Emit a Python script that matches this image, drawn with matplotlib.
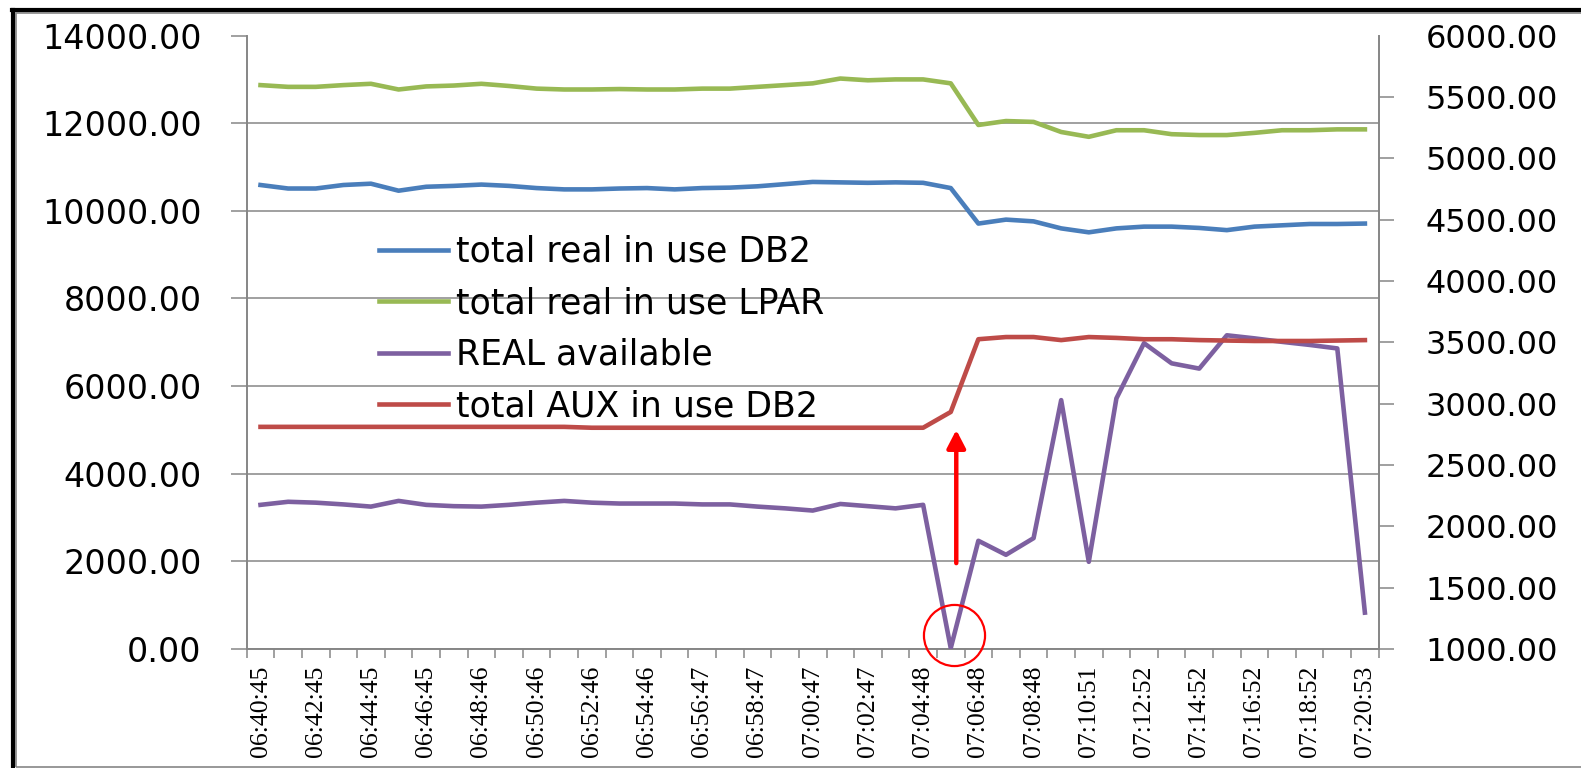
import matplotlib
matplotlib.use("Agg")
import matplotlib.pyplot as plt
from matplotlib.lines import Line2D
from matplotlib.patches import Rectangle

# x axis labels (every second sample is labelled)
tick_labels = ["06:40:45", "06:42:45", "06:44:45", "06:46:45", "06:48:46", "06:50:46",
               "06:52:46", "06:54:46", "06:56:47", "06:58:47", "07:00:47", "07:02:47",
               "07:04:48", "07:06:48", "07:08:48", "07:10:51", "07:12:52", "07:14:52",
               "07:16:52", "07:18:52", "07:20:53"]

real_db2 = [10590, 10510, 10510, 10590, 10620, 10460, 10550, 10570, 10600, 10570,
            10520, 10490, 10490, 10510, 10520, 10490, 10520, 10530, 10560, 10610,
            10660, 10650, 10640, 10650, 10640, 10520, 9710, 9800, 9760, 9600,
            9510, 9600, 9640, 9640, 9610, 9560, 9640, 9670, 9700, 9700, 9710]
real_lpar = [12870, 12830, 12830, 12870, 12900, 12770, 12840, 12860, 12900, 12850,
             12790, 12770, 12770, 12780, 12770, 12770, 12790, 12790, 12830, 12870,
             12910, 13020, 12980, 13000, 13000, 12910, 11960, 12050, 12030, 11800,
             11690, 11840, 11840, 11750, 11730, 11730, 11780, 11840, 11840, 11860, 11860]
real_avail = [3290, 3360, 3340, 3300, 3250, 3380, 3290, 3260, 3250, 3290,
              3340, 3380, 3340, 3320, 3320, 3320, 3300, 3300, 3250, 3210,
              3160, 3310, 3260, 3210, 3290, 20, 2470, 2150, 2530, 5680,
              1990, 5720, 6980, 6520, 6400, 7160, 7090, 7010, 6940, 6860, 830]
aux_db2 = [5070, 5070, 5070, 5070, 5070, 5070, 5070, 5070, 5070, 5070,
           5070, 5070, 5050, 5050, 5050, 5050, 5050, 5050, 5050, 5050,
           5050, 5050, 5050, 5050, 5050, 5410, 7070, 7120, 7120, 7050,
           7120, 7100, 7070, 7070, 7050, 7040, 7030, 7030, 7030, 7040, 7050]

series = [("total real in use DB2", real_db2, "#4A7EBB"),
          ("total real in use LPAR", real_lpar, "#98B954"),
          ("REAL available", real_avail, "#7D60A0"),
          ("total AUX in use DB2", aux_db2, "#BE4B48")]

GRAY = "#868686"
W, H = 1581, 768

fig = plt.figure(figsize=(W / 100, H / 100), dpi=100)
ax = fig.add_axes([246.7 / W, 1 - 649 / H, (1378.7 - 246.7) / W, (649 - 35.6) / H])

x = list(range(len(real_db2)))
handles = []
for name, vals, col in series:
    ln, = ax.plot(x, vals, color=col, lw=3.3, label=name, solid_joinstyle="round", zorder=3)
    handles.append(ln)

ax.set_xlim(-0.5, len(x) - 0.5)
ax.set_ylim(0, 14000)
ax.set_yticks(range(0, 14001, 2000))
ax.yaxis.set_major_formatter(matplotlib.ticker.StrMethodFormatter("{x:.2f}"))
ax.grid(axis="y", color=GRAY, lw=1.1, zorder=1)
ax.set_axisbelow(True)

# category boundary ticks + labels on category centres
ax.set_xticks([i - 0.5 for i in range(len(x) + 1)])
ax.set_xticklabels([])
ax.set_xticks(list(range(0, len(x), 2)), minor=True)
ax.set_xticklabels(tick_labels, minor=True, rotation=90, family="Liberation Serif",
                   fontsize=18.5, va="top", ha="center")
ax.tick_params(axis="x", which="major", length=6.7, width=1.1, color=GRAY, direction="out")
ax.tick_params(axis="x", which="minor", length=0, pad=12)
ax.tick_params(axis="y", length=11.5, width=1.1, color=GRAY, pad=21, labelsize=24)
ax.yaxis.get_major_ticks()[-1].tick1line.set_visible(False)
ax.yaxis.get_major_ticks()[-1].gridline.set_visible(False)

for s in ["top", "right"]:
    ax.spines[s].set_visible(False)
for s in ["left", "bottom"]:
    ax.spines[s].set_color(GRAY)
    ax.spines[s].set_linewidth(1.4)

ax2 = ax.twinx()
ax2.set_ylim(1000, 6000)
ax2.set_yticks(range(1000, 6001, 500))
ax2.yaxis.set_major_formatter(matplotlib.ticker.StrMethodFormatter("{x:.2f}"))
ax2.tick_params(axis="y", length=10.8, width=1.1, color=GRAY, pad=23, labelsize=23)
ax2.yaxis.get_major_ticks()[-1].tick2line.set_visible(False)
for s in ["top", "left", "bottom"]:
    ax2.spines[s].set_visible(False)
ax2.spines["right"].set_color(GRAY)
ax2.spines["right"].set_linewidth(1.4)

# annotations: arrow and circle around the dip
ax.annotate("", xy=(25.2, 5000), xytext=(25.2, 1960),
            arrowprops=dict(arrowstyle="-|>,head_length=0.54,head_width=0.28",
                            mutation_scale=20, color="red", lw=3.2,
                            shrinkA=0, shrinkB=0), zorder=5)
ax.plot([25.1], [320], marker="o", ms=44, mfc="none", mec="red", mew=1.6,
        clip_on=False, zorder=5)

leg = ax.legend(handles=handles, loc="upper left", frameon=False, fontsize=25,
                bbox_to_anchor=(379 / W, 1 - 235 / H), bbox_transform=fig.transFigure,
                handlelength=2.0, handletextpad=0.21, labelspacing=0.5,
                borderaxespad=0, borderpad=0)
leg.set_zorder(6)

# chart frame
fig.add_artist(Rectangle((16 / W, 1 / H), 1, 1 - 14 / H, transform=fig.transFigure,
                         fill=False, ec=GRAY, lw=1.2))
fig.add_artist(Line2D([12 / W, 1], [1 - 10 / H, 1 - 10 / H], transform=fig.transFigure,
                      color="black", lw=3))
fig.add_artist(Line2D([13 / W, 13 / W], [0, 1 - 10 / H], transform=fig.transFigure,
                      color="black", lw=3))

fig.savefig("out.png", dpi=100)
